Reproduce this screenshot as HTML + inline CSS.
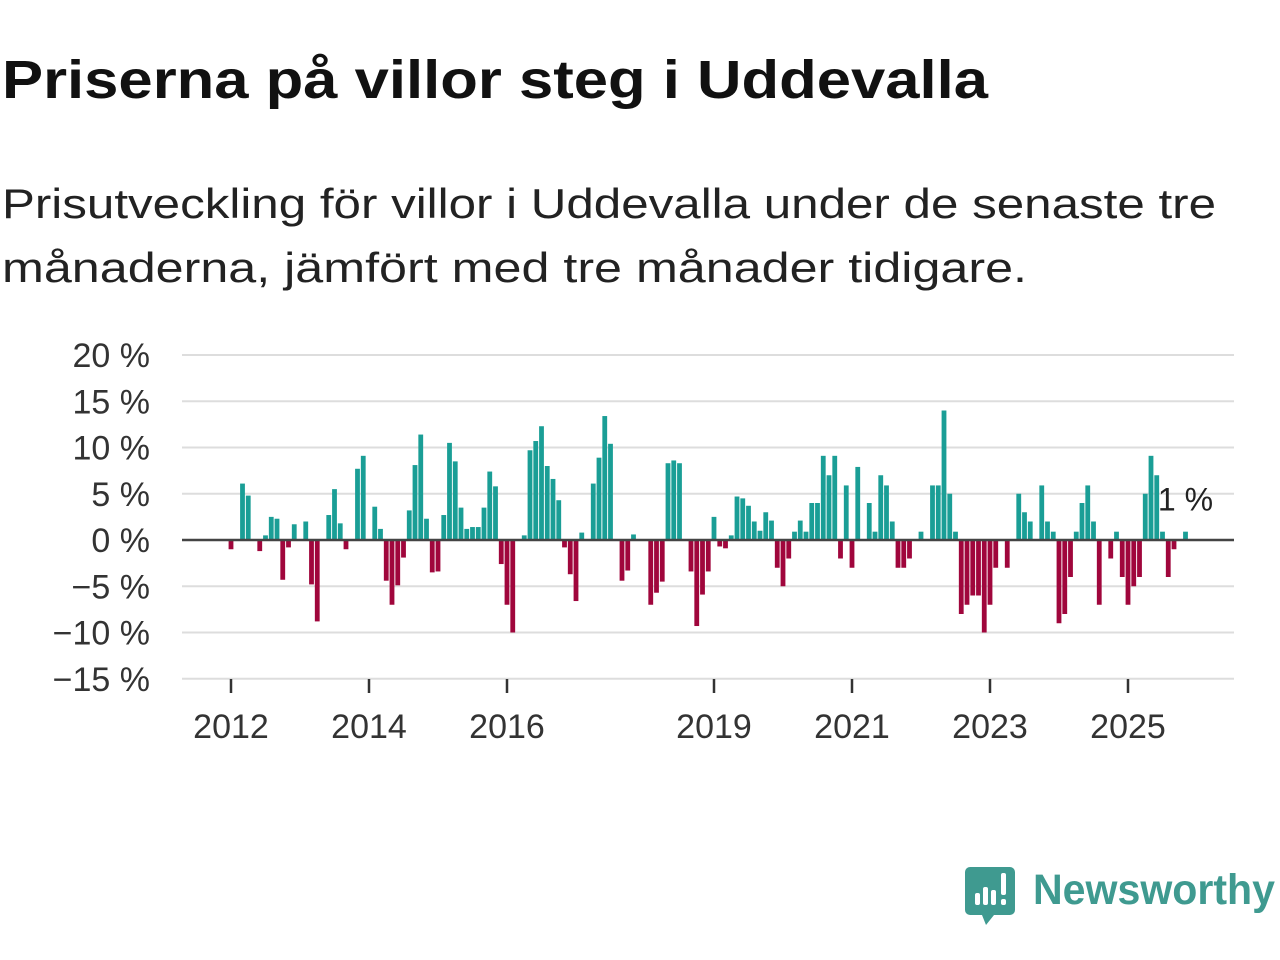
<!DOCTYPE html>
<html><head><meta charset="utf-8"><style>
html,body{margin:0;padding:0;background:#fff;}
svg{display:block;font-family:"Liberation Sans",sans-serif;}
</style></head><body>
<svg id="chart" width="1280" height="960" viewBox="0 0 1280 960" xmlns="http://www.w3.org/2000/svg">
<text x="2" y="98" font-size="54" font-weight="bold" fill="#111" textLength="986" lengthAdjust="spacingAndGlyphs">Priserna på villor steg i Uddevalla</text>
<text x="2" y="218" font-size="42" fill="#222" textLength="1214" lengthAdjust="spacingAndGlyphs">Prisutveckling för villor i Uddevalla under de senaste tre</text>
<text x="2" y="282" font-size="42" fill="#222" textLength="1025" lengthAdjust="spacingAndGlyphs">månaderna, jämfört med tre månader tidigare.</text>
<g id="grid"></g>
<g id="yaxis"></g>
<g id="bars"></g>
<line x1="182" x2="1234" y1="540" y2="540" stroke="#444" stroke-width="2.5"/>
<g id="xaxis"></g>
<text id="lastlabel" font-size="32" fill="#222" text-anchor="middle">1 %</text>
<g>
<path d="M970 867 h40 a5 5 0 0 1 5 5 v38 a5 5 0 0 1 -5 5 h-16 l-8 10 l-4 -10 h-12 a5 5 0 0 1 -5 -5 v-38 a5 5 0 0 1 5 -5z" fill="#3f9a90"/>
<rect x="975" y="893" width="5" height="12" rx="2" fill="#fff"/>
<rect x="983" y="887" width="5" height="18" rx="2" fill="#fff"/>
<rect x="991" y="890" width="5" height="15" rx="2" fill="#fff"/>
<rect x="1001" y="873" width="5" height="22" rx="2" fill="#fff"/>
<rect x="1001" y="899" width="5" height="6" rx="2" fill="#fff"/>
<text x="1033" y="904" font-size="43" font-weight="bold" fill="#3f9a90" textLength="242" lengthAdjust="spacingAndGlyphs">Newsworthy</text>
</g>
</svg>
<script>
const startYear = 2012;
const values = [-1.0,0,6.1,4.8,0,-1.2,0.5,2.5,2.3,-4.3,-0.8,1.7,
0,2.0,-4.8,-8.8,0,2.7,5.5,1.8,-1.0,0,7.7,9.1,
0,3.6,1.2,-4.4,-7.0,-4.9,-1.9,3.2,8.1,11.4,2.3,-3.5,
-3.4,2.7,10.5,8.5,3.5,1.2,1.4,1.4,3.5,7.4,5.8,-2.6,
-7.0,-10.0,0,0.5,9.7,10.7,12.3,8.0,6.6,4.3,-0.8,-3.7,
-6.6,0.8,0,6.1,8.9,13.4,10.4,0,-4.4,-3.3,0.6,0,
0,-7.0,-5.7,-4.5,8.3,8.6,8.3,0,-3.4,-9.3,-5.9,-3.4,
2.5,-0.7,-0.9,0.5,4.7,4.5,3.7,2.0,1.0,3.0,2.1,-3.0,
-5.0,-2.0,0.9,2.1,0.9,4.0,4.0,9.1,7.0,9.1,-2.0,5.9,
-3.0,7.9,0,4.0,0.9,7.0,5.9,2.0,-3.0,-3.0,-2.0,0,
0.9,0,5.9,5.9,14.0,5.0,0.9,-8.0,-7.0,-6.0,-6.0,-10.0,
-7.0,-3.0,0,-3.0,0,5.0,3.0,2.0,0,5.9,2.0,0.9,
-9.0,-8.0,-4.0,0.9,4.0,5.9,2.0,-7.0,0,-2.0,0.9,-4.0,
-7.0,-5.0,-4.0,5.0,9.1,7.0,0.9,-4.0,-1.0,0,0.9];
const yTicks = [20,15,10,5,0,-5,-10,-15];
const yTickLabels = ["20 %","15 %","10 %","5 %","0 %","\u22125 %","\u221210 %","\u221215 %"];
const xTickYears = [2012,2014,2016,2019,2021,2023,2025];
const lastLabel = "1 %";

const NS = "http://www.w3.org/2000/svg";
const y = v => 540 - v * 9.25;
const x = i => 231 + i * 5.75;
const xYear = yr => x((yr - startYear) * 12);
function mk(tag, attrs, parent){const e=document.createElementNS(NS,tag);for(const k in attrs)e.setAttribute(k,attrs[k]);parent.appendChild(e);return e;}
const grid=document.getElementById('grid'), ya=document.getElementById('yaxis'), bars=document.getElementById('bars'), xa=document.getElementById('xaxis');
yTicks.forEach((t,k)=>{
  const l=mk('line',{x1:182,x2:1234,y1:y(t),y2:y(t),stroke:'#ddd','stroke-width':2},grid);
  
  
  const tx=mk('text',{x:150,y:y(t)+12,'font-size':34,fill:'#333','text-anchor':'end'},ya);
  tx.textContent=yTickLabels[k];
  
  
});
values.forEach((v,i)=>{
  if(v===0)return;
  const r=mk('rect',{x:x(i)-2.4,width:4.8,y:Math.min(y(v),540),height:Math.abs(y(v)-540),fill:v>0?'#1a9e96':'#a0063c'},bars);
  
  
});
xTickYears.forEach(yr=>{
  const px=xYear(yr);
  const t=mk('line',{x1:px,x2:px,y1:679,y2:693,stroke:'#333','stroke-width':2.5},xa);
  
  
  const tx=mk('text',{x:px,y:738,'font-size':34,fill:'#333','text-anchor':'middle'},xa);
  tx.textContent=String(yr);
  
  
});
const ll=document.getElementById('lastlabel');
const li=values.length-1;
ll.setAttribute('x',x(li));
ll.setAttribute('y',y(values[li])-21);
ll.textContent=lastLabel;
</script>
</body></html>
